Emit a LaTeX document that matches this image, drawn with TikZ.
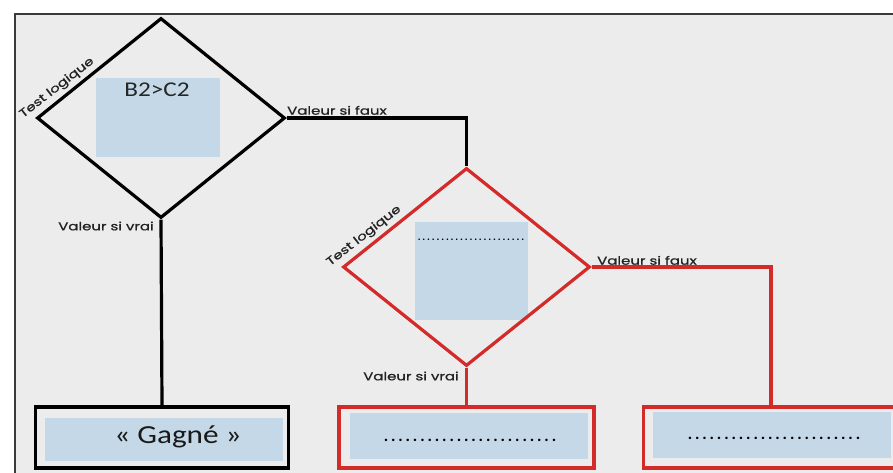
\documentclass[tikz,border=0pt]{standalone}
\usepackage{fontspec}
\setmainfont{Carlito}
\newfontfamily\lblfont[FakeBold=0.8]{Poppins}
\usetikzlibrary{shapes.geometric}
\definecolor{bg}{HTML}{ECECEC}
\definecolor{fillblue}{HTML}{C4D8E7}
\definecolor{redl}{HTML}{D42A2A}
\definecolor{txt}{HTML}{222222}
\definecolor{framec}{HTML}{3A3A3A}
\newcommand{\lblwide}[1]{\scalebox{1.3}[1]{#1}}
\newcommand{\txtwide}[1]{\scalebox{1.2}[1]{#1}}
\begin{document}
\begin{tikzpicture}[x=1pt,y=-1pt,
  dia/.style={diamond, draw, line width=3.2pt, inner sep=0pt},
  bluebox/.style={fill=fillblue, inner sep=0pt},
  outbox/.style={draw, line width=3.2pt, fill=bg, minimum height=61pt, inner sep=0pt},
  lbl/.style={font=\lblfont\fontsize{11.5}{12}\selectfont, text=txt, inner sep=0pt},
  conn/.style={line width=3.2pt},
  dots/.style={font=\bfseries\fontsize{16.6}{18}\selectfont, text=black, inner sep=0pt},
]
\useasboundingbox (0,0) rectangle (893,472);
\fill[white] (0,0) rectangle (893,472);
\draw[fill=bg, draw=framec, line width=2pt] (15,14) rectangle (910,490);

% blue fields inside the diamonds
\node[bluebox, minimum width=124pt, minimum height=79pt] (r1) at (158,117.5) {};
\node[bluebox, minimum width=113pt, minimum height=98pt] (r2) at (471.5,271) {};

% diamond 1 (black)
\node[dia, minimum width=248pt, minimum height=200pt] (d1) at (161,118) {};
\node[font=\fontsize{21}{24}\selectfont, text=black!85, inner sep=0pt] (t1) at (157,90) {\txtwide{B2>C2}};
\node[lbl, rotate=38] (tl1) at (57,88) {\lblwide{Test logique}};

% diamond 2 (red)
\node[dia, draw=redl, minimum width=247pt, minimum height=198pt] (d2) at (466.5,267) {};
\node[font=\bfseries\fontsize{10.7}{12}\selectfont, inner sep=0pt, anchor=base] (t2) at (471,240) {\hbox to 112pt{\dotfill}};
\node[lbl, rotate=38] (tl2) at (364,236) {\lblwide{Test logique}};

% bottom boxes
\node[outbox, minimum width=253pt] (b1) at (162,437.5) {};
\node[bluebox, minimum width=238pt, minimum height=43pt] (bb1) at (164,439) {};
\node[font=\fontsize{26}{30}\selectfont, text=black!90, inner sep=0pt] (g1) at (178,437) {\txtwide{« Gagné »}};

\node[outbox, draw=redl, minimum width=255pt] (b2) at (466.5,437.5) {};
\node[bluebox, minimum width=238pt, minimum height=46pt] (bb2) at (469,436) {};
\node[dots, anchor=base] (g2) at (470,441) {\hbox to 176pt{\dotfill}};

\node[outbox, draw=redl, minimum width=255pt] (b3) at (771,437.5) {};
\node[bluebox, minimum width=238pt, minimum height=46pt] (bb3) at (772,435) {};
\node[dots, anchor=base] (g3) at (774,439) {\hbox to 176pt{\dotfill}};

% connectors
\draw[conn] (d1.south) -- (b1.north);
\draw[conn] (d1.east) -| (d2.north);
\draw[conn, redl] (d2.south) -- (b2.north);
\draw[conn, redl] (d2.east) -| (b3.north);

% labels
\node[lbl, anchor=south west] (f1) at (287,115) {\lblwide{Valeur si faux}};
\node[lbl] (v1) at (106,226) {\lblwide{Valeur si vrai}};
\node[lbl] (v2) at (411,376) {\lblwide{Valeur si vrai}};
\node[lbl, anchor=south west] (f2) at (597,265) {\lblwide{Valeur si faux}};
\end{tikzpicture}
\end{document}
